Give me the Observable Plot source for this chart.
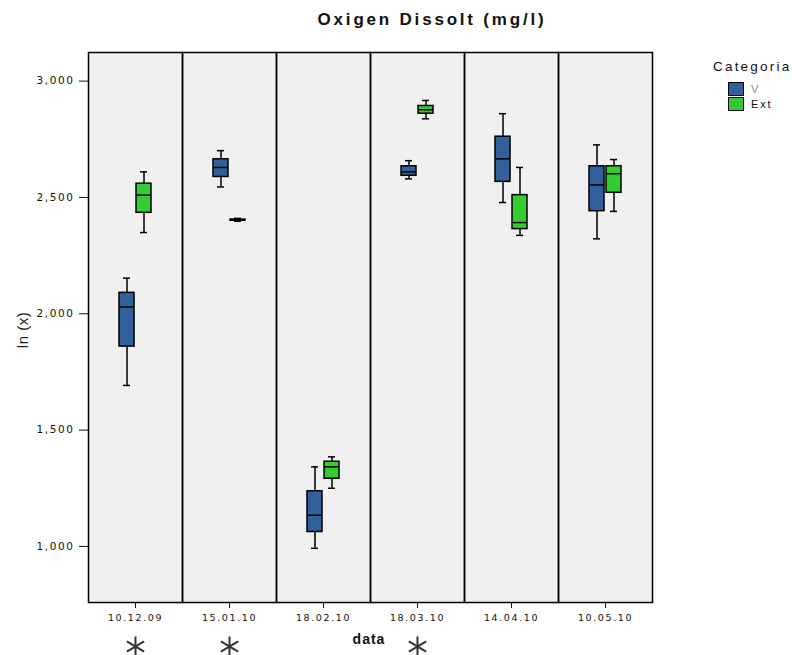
<!DOCTYPE html>
<html><head><meta charset="utf-8">
<script src="https://cdn.jsdelivr.net/npm/d3@7"></script>
<script src="https://cdn.jsdelivr.net/npm/@observablehq/plot@0.6"></script>
<style>
body{margin:0;background:#fff;font-family:"Liberation Sans",Arial,sans-serif;}
#wrap{position:relative;width:796px;height:655px;overflow:hidden;}
#title{position:absolute;left:232px;width:400px;top:10px;text-align:center;font-weight:bold;font-size:17px;letter-spacing:2.8px;color:#111;}
#chart{position:absolute;left:0;top:40px;}
#ylab{position:absolute;left:22px;top:330px;transform:translate(-50%,-50%) rotate(-90deg);font-size:15px;color:#222;white-space:nowrap;letter-spacing:0.5px;}
#xlab{position:absolute;left:319px;width:100px;top:631px;text-align:center;font-weight:bold;font-size:14px;letter-spacing:1px;color:#111;}
#legend{position:absolute;left:713px;top:59px;font-size:13.5px;color:#111;}
#legend .t{letter-spacing:2.2px;}
#legend .row{position:relative;height:15px;margin-left:15px;font-size:11px;letter-spacing:1.8px;}
#legend .sw{position:absolute;left:0;top:0;width:14px;height:12px;border:1.5px solid #000;}
#legend .lb{position:absolute;left:23px;top:1px;}
</style></head>
<body>
<div id="wrap">
  <div id="title">Oxigen Dissolt (mg/l)</div>
  <div id="chart"></div>
  <div id="ylab">ln (x)</div>
  <div id="xlab">data</div>
  <div id="legend">
    <div class="t">Categoria</div>
    <div style="height:8px"></div>
    <div class="row"><div class="sw" style="background:#31609a"></div><div class="lb" style="color:#888">V</div></div>
    <div class="row"><div class="sw" style="background:#33cc33"></div><div class="lb">Ext</div></div>
  </div>
</div>
<script>
const dates = ["10.12.09","15.01.10","18.02.10","18.03.10","14.04.10","10.05.10"];
const categories = ["V","Ext"];
const colors = ["#31609a","#33cc33"];
// V series: whisker low, Q1, median, Q3, whisker high
const vLow  = [1692, 2545,  992, 2580, 2478, 2322];
const vQ1   = [1859, 2588, 1062, 2593, 2567, 2441];
const vMed  = [2029, 2629, 1134, 2610, 2666, 2554];
const vQ3   = [2090, 2664, 1237, 2634, 2761, 2634];
const vHigh = [2153, 2701, 1342, 2658, 2860, 2726];
// Ext series
const eLow  = [2349, 2398, 1250, 2838, 2337, 2440];
const eQ1   = [2434, 2400, 1291, 2860, 2364, 2520];
const eMed  = [2510, 2403, 1342, 2877, 2392, 2602];
const eQ3   = [2559, 2405, 1364, 2893, 2510, 2634];
const eHigh = [2610, 2410, 1385, 2917, 2629, 2663];
const yTicks = [1000, 1500, 2000, 2500, 3000];
const sigDates = ["10.12.09","15.01.10","18.03.10"];

const stats = [];
dates.forEach((d, i) => {
  stats.push({date: d, cat: "V", lo: vLow[i], q1: vQ1[i], med: vMed[i], q3: vQ3[i], hi: vHigh[i]});
  stats.push({date: d, cat: "Ext", lo: eLow[i], q1: eQ1[i], med: eMed[i], q3: eQ3[i], hi: eHigh[i]});
});

const common = {x: "cat", fx: "date"};
const chart = Plot.plot({
  width: 796,
  height: 615,
  marginLeft: 88,
  marginRight: 144,
  marginTop: 12,
  marginBottom: 53,
  style: {fontFamily: "'DejaVu Sans', sans-serif", fontSize: "9.5px", letterSpacing: "1.6px", color: "#111", background: "transparent"},
  fx: {domain: dates, padding: 0, label: null, axis: "bottom", tickSize: 6, tickPadding: 6},
  x: {domain: categories, axis: null, paddingInner: 0.12, paddingOuter: 1.82},
  y: {domain: [759, 3123], axis: null},
  color: {domain: categories, range: colors},
  marks: [
    Plot.frame({fill: "#f0f0f0"}),
    Plot.axisY(yTicks, {tickFormat: d3.format(","), label: null, tickSize: 9, tickPadding: 5, fontSize: 10.5, letterSpacing: 1.2}),
    Plot.ruleX(stats, {...common, y1: "lo", y2: "hi", stroke: "#000", strokeWidth: 1.5}),
    Plot.tickY(stats, {...common, y: "lo", insetLeft: 4, insetRight: 4, stroke: "#000", strokeWidth: 1.5}),
    Plot.tickY(stats, {...common, y: "hi", insetLeft: 4, insetRight: 4, stroke: "#000", strokeWidth: 1.5}),
    Plot.barY(stats, {...common, y1: "q1", y2: "q3", fill: "cat", stroke: "#000", strokeWidth: 1.5}),
    Plot.tickY(stats, {...common, y: "med", stroke: "#000", strokeWidth: 1.5}),
    Plot.frame({stroke: "#000", strokeWidth: 1.5}),
    Plot.dot(sigDates, {fx: d => d, frameAnchor: "bottom", dy: 44, symbol: "asterisk", r: 9.5, stroke: "#333", strokeWidth: 2})
  ]
});
document.getElementById("chart").appendChild(chart);
</script>
</body></html>
